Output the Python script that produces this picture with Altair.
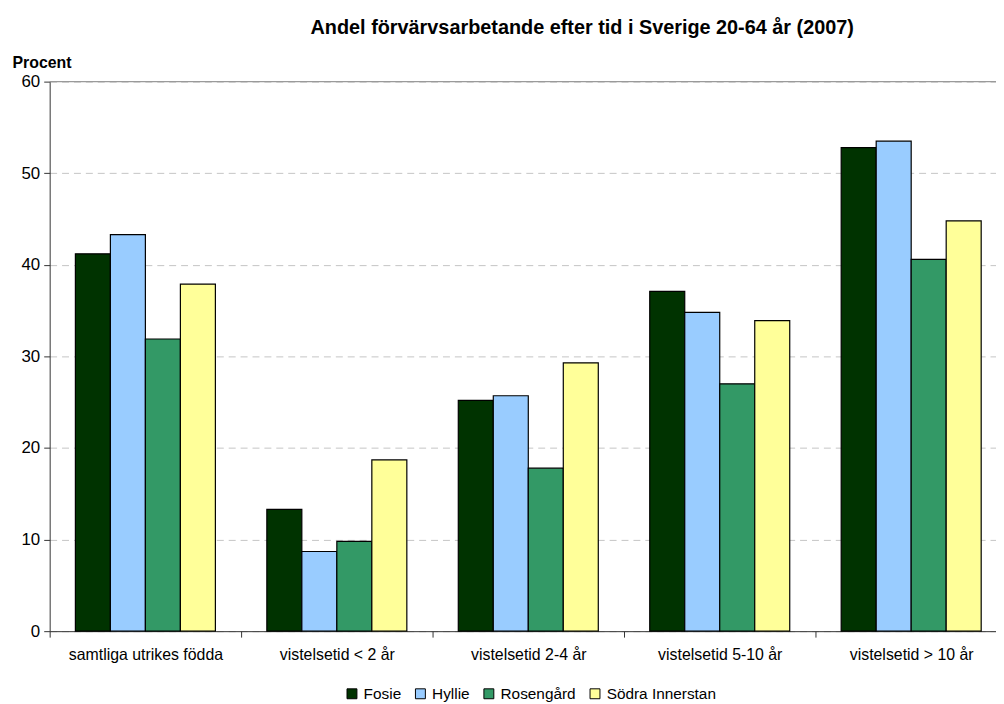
import altair as alt
import pandas as pd

categories = ["samtliga utrikes födda", "vistelsetid < 2 år", "vistelsetid 2-4 år",
              "vistelsetid 5-10 år", "vistelsetid > 10 år"]
series = ["Fosie", "Hyllie", "Rosengård", "Södra Innerstan"]
colors = ["#003300", "#99ccff", "#339966", "#ffff99"]

fosie = [41.2, 13.3, 25.2, 37.1, 52.8]
hyllie = [43.3, 8.7, 25.7, 34.8, 53.5]
rosengard = [31.9, 9.8, 17.8, 27.0, 40.6]
sodra = [37.9, 18.7, 29.3, 33.9, 44.8]

values = {"Fosie": fosie, "Hyllie": hyllie, "Rosengård": rosengard, "Södra Innerstan": sodra}
rows = []
for s in series:
    for c, v in zip(categories, values[s]):
        rows.append({"kategori": c, "serie": s, "procent": v})
df = pd.DataFrame(rows)

FONT = "Liberation Sans"

bars = alt.Chart(df).mark_bar(stroke="black", strokeWidth=1.2, opacity=1).encode(
    x=alt.X("kategori:N", sort=categories,
            scale=alt.Scale(paddingInner=0, paddingOuter=0),
            axis=alt.Axis(title=None, labelAngle=0, tickBand="extent", tickSize=6,
                          labelPadding=10, labelFontSize=16, labelFont=FONT,
                          labelColor="black", domainColor="#333333", tickColor="#333333",
                          grid=False)),
    xOffset=alt.XOffset("serie:N", sort=series,
                        scale=alt.Scale(paddingInner=0, paddingOuter=0.735)),
    y=alt.Y("procent:Q", scale=alt.Scale(domain=[0, 60], nice=False),
            axis=alt.Axis(values=[0, 10, 20, 30, 40, 50, 60], title="Procent",
                          titleAngle=0, titleAlign="left", titleBaseline="alphabetic",
                          titleX=-38, titleY=-14.5, titleFont=FONT, titleFontSize=16,
                          titleFontWeight="bold", titleColor="black",
                          labelFont=FONT, labelFontSize=17, labelColor="black",
                          tickSize=6, labelPadding=4, domainColor="#333333",
                          tickColor="#333333", gridColor="#c4c4c4", gridDash=[7, 5],
                          gridWidth=1)),
    color=alt.Color("serie:N", sort=series,
                    scale=alt.Scale(domain=series, range=colors),
                    legend=alt.Legend(orient="none", legendX=297, legendY=609,
                                      direction="horizontal", columns=4, title=None,
                                      symbolType="square", symbolSize=100,
                                      symbolStrokeColor="black", symbolStrokeWidth=1,
                                      symbolOpacity=1, labelFont=FONT, labelFontSize=15.5,
                                      labelColor="black", columnPadding=11, labelOffset=4)),
)

top_line = alt.Chart(pd.DataFrame({"y": [60]})).mark_rule(color="#9a9a9a", strokeWidth=1.2).encode(
    y="y:Q"
)

chart = alt.layer(bars, top_line).properties(
    width=965,
    height=554,
    title=alt.TitleParams(
        "Andel förvärvsarbetande efter tid i Sverige 20-64 år (2007)",
        anchor="start", frame="group", dx=263, offset=17,
        font=FONT, fontSize=20, fontWeight="bold", color="black"),
    autosize=alt.AutoSizeParams(type="none"),
    padding={"left": 42, "top": 71.4, "right": -11, "bottom": 70},
).configure_view(stroke=None)

chart.save("out.html", embed_options={"renderer": "svg", "actions": False})
